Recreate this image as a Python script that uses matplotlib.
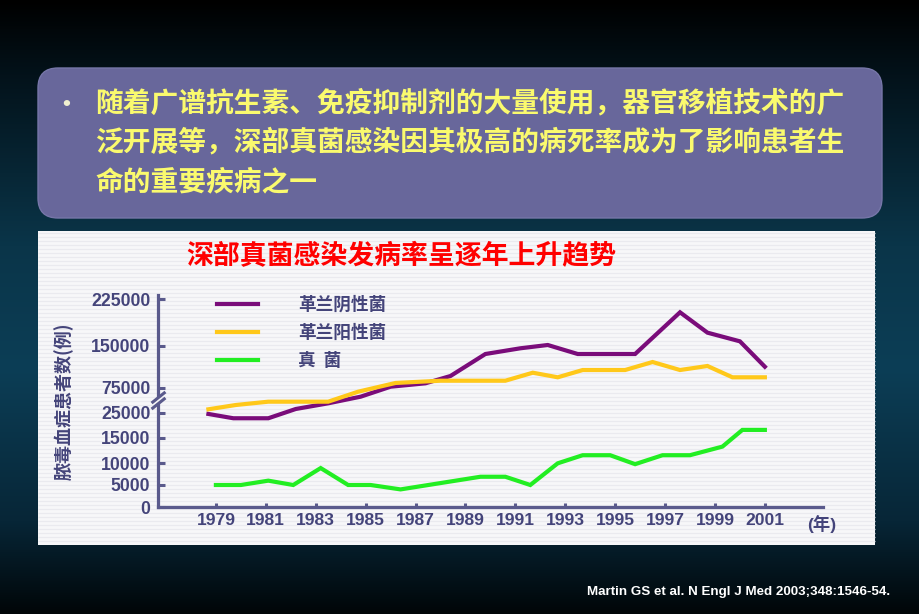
import numpy as np
import matplotlib
matplotlib.use('Agg')
import matplotlib.pyplot as plt
from matplotlib.patches import FancyBboxPatch, Rectangle
from matplotlib.colors import LinearSegmentedColormap

# ---------------- data ----------------
neg_years = [1978.7, 1979.7, 1981.1, 1982.2, 1983.5, 1984.8, 1986.0, 1987.4, 1988.4,
             1989.8, 1991.2, 1992.3, 1993.5, 1995.8, 1997.6, 1998.7, 2000.0, 2001.0]
neg_cases = [24500, 22800, 22800, 32500, 44000, 57400, 77300, 83400, 96400,
             135700, 145900, 151600, 135700, 135700, 204100, 171400, 157500, 113000]

pos_years = [1978.7, 1979.8, 1981.1, 1983.5, 1984.7, 1986.2, 1988.0, 1990.6, 1991.7,
             1992.7, 1993.7, 1995.4, 1996.5, 1997.6, 1998.7, 1999.7, 2001.0]
pos_cases = [31900, 40600, 47300, 47300, 67500, 84000, 88000, 88000, 102300,
             94100, 107100, 107100, 121400, 107100, 114300, 94100, 94100]

fungal_years = [1979.0, 1980.0, 1981.1, 1982.1, 1983.2, 1984.3, 1985.2, 1986.4, 1989.6,
                1990.6, 1991.6, 1992.7, 1993.7, 1994.8, 1995.8, 1996.9, 1998.0, 1999.3,
                2000.1, 2001.0]
fungal_cases = [5000, 5000, 6000, 5000, 8900, 5000, 5000, 4000, 6900,
                6900, 5000, 10000, 11600, 11600, 9800, 11600, 11600, 13300,
                18200, 18200]

series_labels = ['革兰阴性菌', '革兰阳性菌', '真  菌']
year_ticks = [1979, 1981, 1983, 1985, 1987, 1989, 1991, 1993, 1995, 1997, 1999, 2001]
y_ticks = [0, 5000, 10000, 15000, 25000, 75000, 150000, 225000]
y_tick_labels = ['0', '5000', '10000', '15000', '25000', '75000', '150000', '225000']

# broken / uneven value axis of the original chart (value -> axis unit)
scale_values = [0, 5000, 10000, 15000, 25000, 75000, 150000, 225000, 300000]
scale_units = [0, 22, 43.7, 69, 94.3, 119, 161, 207.7, 254.4]

bullet_lines = ['随着广谱抗生素、免疫抑制剂的大量使用，器官移植技术的广',
                '泛开展等，深部真菌感染因其极高的病死率成为了影响患者生',
                '命的重要疾病之一']
chart_title = '深部真菌感染发病率呈逐年上升趋势'
y_label = '脓毒血症患者数(例)'
x_unit = '(年)'
citation = 'Martin GS et al. N Engl J Med 2003;348:1546-54.'

# ---------------- styling ----------------
CJK = ['Noto Sans CJK SC', 'DejaVu Sans']
LAT = ['Liberation Sans', 'Noto Sans CJK SC', 'DejaVu Sans']
AXIS_C = '#5a5a8c'
LABEL_C = '#44447a'
W, H = 920, 614

fig = plt.figure(figsize=(W / 100, H / 100), dpi=100)

# background (pixel coordinate axes)
bg = fig.add_axes([0, 0, 1, 1], zorder=0)
bg.set_xlim(0, W)
bg.set_ylim(H, 0)
bg.axis('off')
cmap = LinearSegmentedColormap.from_list(
    'slide', [(0.0, '#000000'), (0.12, '#03121a'), (0.4, '#0a3549'),
              (0.6, '#0c3e56'), (0.85, '#072637'), (1.0, '#010608')])
grad = np.linspace(0, 1, 256).reshape(-1, 1)
bg.imshow(grad, cmap=cmap, aspect='auto', extent=(0, W, H, 0), zorder=0)

# purple rounded text box
box = FancyBboxPatch((38 + 20, 68 + 20), 844 - 40, 150 - 40,
                     boxstyle='round,pad=20', fc='#68679b', ec='#7676a8', lw=1.0, zorder=1)
bg.add_patch(box)
bg.text(66, 104, '•', color='#f0f0d0', fontsize=16, family=LAT, fontweight='bold',
        ha='center', va='center', zorder=2)
for i, line in enumerate(bullet_lines):
    bg.text(95, 103 + i * 39.5, line, color='#fafa6e', fontsize=20, family=CJK,
            fontweight='bold', ha='left', va='center', zorder=2)

# white chart panel with faint stripes
bg.add_patch(Rectangle((38, 231), 837, 314, fc='#f7f7f9', ec='none', zorder=1))
bg.hlines(np.arange(233, 545, 4), 38, 875, colors='#eaeaef', lw=0.9, zorder=1.5)

bg.text(401, 256, chart_title, color='#ff0000', fontsize=19.4, family=CJK,
        fontweight='bold', ha='center', va='center', zorder=2)
bg.text(822, 524, x_unit, color=LABEL_C, fontsize=12.5, family=LAT,
        fontweight='bold', ha='center', va='center', zorder=2)
bg.text(890, 592, citation, color='#ffffff', fontsize=9.6, family=LAT,
        fontweight='bold', ha='right', va='center', zorder=2)

# ---------------- main chart axes ----------------
left_px, right_px, bottom_px, top_px = 158, 823, 507, 295
ax = fig.add_axes([left_px / W, 1 - bottom_px / H,
                   (right_px - left_px) / W, (bottom_px - top_px) / H], zorder=2)
ax.patch.set_alpha(0)


def fwd(v):
    return np.interp(v, scale_values, scale_units)


def inv(u):
    return np.interp(u, scale_units, scale_values)


ax.set_yscale('function', functions=(fwd, inv))
ax.set_xlim(1976.68, 2003.33)
ax.set_ylim(0, 231900)

ax.plot(neg_years, neg_cases, color='#7a0c7a', lw=3, label=series_labels[0],
        solid_joinstyle='miter', zorder=3)
ax.plot(pos_years, pos_cases, color='#ffc81a', lw=3, label=series_labels[1],
        solid_joinstyle='miter', zorder=3)
ax.plot(fungal_years, fungal_cases, color='#22ee22', lw=3, label=series_labels[2],
        solid_joinstyle='miter', zorder=3)

for s in ['top', 'right']:
    ax.spines[s].set_visible(False)
for s in ['left', 'bottom']:
    ax.spines[s].set_color(AXIS_C)
    ax.spines[s].set_linewidth(2.3)

ax.set_yticks(y_ticks)
ax.set_yticklabels(y_tick_labels)
ax.set_xticks(year_ticks)
ax.set_xticklabels([str(y) for y in year_ticks])
ax.yaxis.set_minor_locator(matplotlib.ticker.NullLocator())
ax.tick_params(axis='y', direction='in', length=5, width=2.2, color=AXIS_C, pad=5.5,
               labelcolor=LABEL_C, labelsize=12.7)
ax.tick_params(axis='x', direction='in', length=3, width=2.2, color=AXIS_C, pad=4.5,
               labelcolor=LABEL_C, labelsize=12.6)
for t in ax.get_yticklabels() + ax.get_xticklabels():
    t.set_family(LAT)
    t.set_fontweight('bold')

ax.set_ylabel(y_label, family=CJK, fontweight='bold', fontsize=13, color=LABEL_C)
ax.yaxis.set_label_coords(-0.126, 0.5)

# axis break mark
brk_lo, brk_hi = 44000, 57000
ax.plot([0, 0], [brk_lo, brk_hi], transform=ax.get_yaxis_transform(), color='#f7f7f9',
        lw=3.5, clip_on=False, zorder=4, solid_capstyle='butt')
ax.plot([0, 0], [brk_lo, brk_hi], transform=ax.get_yaxis_transform(), ls='none',
        marker=[(-1, -0.8), (1, 0.8)], markersize=10, mec=AXIS_C, mew=2.2,
        clip_on=False, zorder=5)

leg = ax.legend(loc='upper left', bbox_to_anchor=(217 / W, 1 - 296 / H),
                bbox_transform=fig.transFigure, frameon=False, borderpad=0,
                borderaxespad=0, handlelength=2.3, handletextpad=2.3,
                labelspacing=0.58,
                prop={'family': CJK, 'weight': 'bold', 'size': 12.7})
for t in leg.get_texts():
    t.set_color(LABEL_C)

fig.savefig('out.png', dpi=100)
